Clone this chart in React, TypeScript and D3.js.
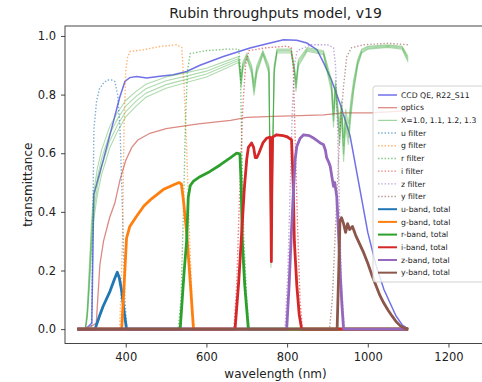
import React, { useEffect, useRef } from "react";
import * as d3 from "d3";

type Pt = [number, number];

// ---- data (wavelength nm, transmittance) ----
const qe: Pt[] = [
  [300, 0], [316, 0.02], [319, 0.3], [321, 0.46], [345, 0.58], [368, 0.7], [385, 0.79],
  [398, 0.845], [410, 0.858], [427, 0.862], [452, 0.857], [480, 0.862], [518, 0.868],
  [551, 0.879], [584, 0.9], [642, 0.93], [708, 0.959], [758, 0.976], [791, 0.987],
  [824, 0.985], [849, 0.976], [874, 0.953], [890, 0.91], [910, 0.85], [931, 0.77],
  [956, 0.66], [980, 0.48], [1000, 0.33], [1020, 0.22], [1040, 0.135], [1055, 0.09],
  [1070, 0.045], [1085, 0.015], [1100, 0],
];

const optics: Pt[] = [
  [300, 0], [327, 0.02], [336, 0.22], [345, 0.3], [360, 0.38], [373, 0.43], [386, 0.51],
  [400, 0.575], [415, 0.62], [430, 0.645], [460, 0.668], [500, 0.684], [580, 0.7],
  [660, 0.712], [700, 0.722], [765, 0.726], [832, 0.728], [890, 0.731], [940, 0.738],
  [1010, 0.738], [1060, 0.742], [1100, 0.745],
];

const atmWl = [
  300, 305, 310, 315, 320, 330, 340, 350, 360, 380, 400, 425, 450, 500, 550, 600, 650, 680,
  686, 690, 700, 712, 718, 725, 740, 755, 760, 763, 768, 775, 810, 818, 822, 828, 850, 890,
  900, 910, 915, 920, 930, 935, 940, 945, 952, 958, 965, 975, 985, 1000, 1050, 1085, 1100,
];
const atmX10 = [
  0, 0.08, 0.22, 0.36, 0.46, 0.55, 0.61, 0.65, 0.69, 0.74, 0.78, 0.81, 0.835, 0.86, 0.875,
  0.89, 0.915, 0.93, 0.86, 0.91, 0.94, 0.9, 0.84, 0.9, 0.95, 0.9, 0.3, 0.55, 0.9, 0.955,
  0.955, 0.9, 0.85, 0.92, 0.96, 0.95, 0.9, 0.85, 0.75, 0.85, 0.7, 0.78, 0.65, 0.75, 0.7,
  0.78, 0.85, 0.92, 0.955, 0.965, 0.97, 0.965, 0.93,
];
const atmX11 = [
  0, 0.062, 0.189, 0.325, 0.426, 0.518, 0.581, 0.623, 0.665, 0.718, 0.761, 0.793, 0.82,
  0.847, 0.863, 0.88, 0.907, 0.923, 0.847, 0.901, 0.934, 0.89, 0.825, 0.89, 0.945, 0.89,
  0.266, 0.518, 0.89, 0.951, 0.951, 0.89, 0.836, 0.912, 0.956, 0.945, 0.89, 0.836, 0.729,
  0.836, 0.675, 0.761, 0.623, 0.729, 0.675, 0.761, 0.836, 0.912, 0.951, 0.962, 0.967,
  0.962, 0.923,
];
const atmX12 = [
  0, 0.048, 0.163, 0.293, 0.394, 0.488, 0.553, 0.596, 0.641, 0.697, 0.742, 0.777, 0.805,
  0.834, 0.852, 0.87, 0.899, 0.917, 0.834, 0.893, 0.929, 0.881, 0.811, 0.881, 0.94, 0.881,
  0.236, 0.488, 0.881, 0.946, 0.946, 0.881, 0.823, 0.905, 0.952, 0.94, 0.881, 0.823, 0.708,
  0.823, 0.652, 0.742, 0.596, 0.708, 0.652, 0.742, 0.823, 0.905, 0.946, 0.958, 0.964,
  0.958, 0.917,
];
const atmX13 = [
  0, 0.037, 0.14, 0.265, 0.365, 0.46, 0.526, 0.571, 0.617, 0.676, 0.724, 0.76, 0.791,
  0.822, 0.841, 0.86, 0.891, 0.91, 0.822, 0.884, 0.923, 0.872, 0.797, 0.872, 0.936, 0.872,
  0.209, 0.46, 0.872, 0.942, 0.942, 0.872, 0.81, 0.897, 0.948, 0.936, 0.872, 0.81, 0.688,
  0.81, 0.629, 0.724, 0.571, 0.688, 0.629, 0.724, 0.81, 0.897, 0.942, 0.955, 0.961,
  0.955, 0.91,
];

const uFilter: Pt[] = [
  [280, 0], [315, 0], [318, 0.3], [321, 0.68], [328, 0.78], [335, 0.82], [345, 0.84],
  [355, 0.85], [365, 0.85], [373, 0.845], [380, 0.8], [386, 0.68], [392, 0.4], [398, 0.1],
  [403, 0], [1100, 0],
];
const gFilter: Pt[] = [
  [280, 0], [385, 0], [392, 0.3], [396, 0.7], [400, 0.88], [405, 0.93], [411, 0.947],
  [444, 0.953], [485, 0.964], [526, 0.97], [539, 0.96], [545, 0.82], [551, 0.62],
  [556, 0.4], [560, 0.25], [566, 0.05], [570, 0], [1100, 0],
];
const rFilter: Pt[] = [
  [280, 0], [530, 0], [537, 0.1], [543, 0.4], [548, 0.7], [553, 0.88], [560, 0.94],
  [600, 0.95], [650, 0.955], [680, 0.955], [684, 0.9], [688, 0.6], [693, 0.3], [700, 0.1],
  [706, 0], [1100, 0],
];
const iFilter: Pt[] = [
  [280, 0], [668, 0], [675, 0.15], [682, 0.45], [690, 0.75], [697, 0.9], [705, 0.95],
  [750, 0.96], [800, 0.965], [810, 0.96], [815, 0.9], [820, 0.65], [826, 0.35], [832, 0.1],
  [838, 0], [1100, 0],
];
const zFilter: Pt[] = [
  [280, 0], [795, 0], [802, 0.2], [808, 0.5], [813, 0.75], [818, 0.9], [825, 0.95],
  [860, 0.97], [900, 0.97], [915, 0.96], [920, 0.9], [925, 0.7], [930, 0.4], [935, 0.15],
  [942, 0], [1100, 0],
];
const yFilter: Pt[] = [
  [280, 0], [905, 0], [912, 0.1], [920, 0.35], [931, 0.68], [940, 0.83], [948, 0.93],
  [960, 0.96], [990, 0.97], [1050, 0.975], [1100, 0.97],
];

const uTotal: Pt[] = [
  [280, 0], [324, 0], [335, 0.045], [344, 0.078], [361, 0.129], [372, 0.17], [379, 0.194],
  [384, 0.175], [390, 0.13], [396, 0.06], [402, 0], [1100, 0],
];
const gTotal: Pt[] = [
  [280, 0], [390, 0], [396, 0.15], [402, 0.31], [410, 0.35], [427, 0.385], [445, 0.42],
  [460, 0.44], [493, 0.476], [515, 0.49], [532, 0.5], [538, 0.495], [543, 0.44],
  [551, 0.33], [559, 0.18], [568, 0], [1100, 0],
];
const rTotal: Pt[] = [
  [280, 0], [535, 0], [545, 0.2], [551, 0.3], [555, 0.45], [560, 0.49], [568, 0.505],
  [584, 0.52], [609, 0.538], [634, 0.56], [659, 0.584], [675, 0.6], [683, 0.598],
  [686, 0.5], [689, 0.3], [695, 0.15], [704, 0], [1100, 0],
];
const iTotal: Pt[] = [
  [280, 0], [671, 0], [680, 0.16], [688, 0.34], [694, 0.48], [700, 0.58], [704, 0.62],
  [712, 0.635], [717, 0.62], [721, 0.585], [725, 0.585], [730, 0.6], [740, 0.635],
  [750, 0.652], [758, 0.655], [760, 0.4], [761, 0.23], [762, 0.45], [764, 0.655],
  [774, 0.663], [790, 0.66], [799, 0.657], [811, 0.646], [815, 0.5], [818, 0.3],
  [824, 0.15], [830, 0.05], [836, 0], [1100, 0],
];
const zTotal: Pt[] = [
  [280, 0], [799, 0], [805, 0.15], [811, 0.34], [816, 0.48], [820, 0.58], [824, 0.623],
  [832, 0.65], [841, 0.663], [855, 0.66], [865, 0.652], [882, 0.635], [890, 0.63],
  [895, 0.61], [898, 0.585], [903, 0.57], [907, 0.555], [911, 0.52], [915, 0.487],
  [918, 0.5], [923, 0.453], [925, 0.4], [927, 0.34], [932, 0.18], [936, 0.08], [940, 0],
  [1100, 0],
];
const yTotal: Pt[] = [
  [280, 0], [924, 0], [928, 0.2], [931, 0.37], [935, 0.38], [940, 0.36], [945, 0.33],
  [950, 0.36], [955, 0.34], [962, 0.35], [970, 0.32], [980, 0.29], [990, 0.26],
  [1000, 0.225], [1010, 0.185], [1020, 0.15], [1030, 0.115], [1040, 0.088], [1050, 0.065],
  [1060, 0.045], [1070, 0.026], [1080, 0.012], [1090, 0.004], [1100, 0],
];

const xTicks = [400, 600, 800, 1000, 1200];
const yTicks = [0, 0.2, 0.4, 0.6, 0.8, 1.0];

const legendLabels = [
  "CCD QE, R22_S11", "optics", "X=1.0, 1.1, 1.2, 1.3",
  "u filter", "g filter", "r filter", "i filter", "z filter", "y filter",
  "u-band, total", "g-band, total", "r-band, total", "i-band, total", "z-band, total", "y-band, total",
];

const bandColors = ["#1f77b4", "#ff7f0e", "#2ca02c", "#d62728", "#9467bd", "#8c564b"];

export default function App() {
  const svgRef = useRef<SVGSVGElement>(null);

  useEffect(() => {
    const w = 482;
    const h = 382;
    const left = 65, right = 486, top = 26, bottom = 343.5;
    const font = "DejaVu Sans, sans-serif";

    const svg = d3.select(svgRef.current);
    svg.selectAll("*").remove();
    svg.attr("width", w).attr("height", h);

    const x = d3.scaleLinear().domain([249.5, 1293]).range([left, right]);
    const y = d3.scaleLinear().domain([-0.049, 1.034]).range([bottom, top]);
    const line = d3.line<Pt>().x(d => x(d[0])).y(d => y(d[1]));

    svg.append("rect").attr("width", w).attr("height", h).attr("fill", "#fff");

    svg.append("defs").append("clipPath").attr("id", "plotclip")
      .append("rect").attr("x", left).attr("y", top)
      .attr("width", right - left).attr("height", bottom - top);

    const plot = svg.append("g").attr("clip-path", "url(#plotclip)").attr("fill", "none");

    // QE and optics
    plot.append("path").attr("d", line(qe)).attr("stroke", "#7070e8").attr("stroke-width", 1.5);
    plot.append("path").attr("d", line(optics)).attr("stroke", "#dc8a84").attr("stroke-width", 1.3);

    // atmosphere at several airmasses
    [atmX10, atmX11, atmX12, atmX13].forEach(vals => {
      const pts: Pt[] = atmWl.map((wl, i) => [wl, vals[i]]);
      plot.append("path").attr("d", line(pts))
        .attr("stroke", "#2ca02c").attr("stroke-opacity", 0.38).attr("stroke-width", 1.1);
    });

    // filters (dotted)
    [uFilter, gFilter, rFilter, iFilter, zFilter, yFilter].forEach((f, i) => {
      plot.append("path").attr("d", line(f))
        .attr("stroke", bandColors[i]).attr("stroke-opacity", 0.6)
        .attr("stroke-width", 1.4).attr("stroke-dasharray", "1.4,1.9");
    });

    // band totals
    [uTotal, gTotal, rTotal, iTotal, zTotal, yTotal].forEach((t, i) => {
      plot.append("path").attr("d", line(t))
        .attr("stroke", bandColors[i]).attr("stroke-width", 2.8)
        .attr("stroke-linejoin", "round");
    });

    // axes
    const xAxis = d3.axisBottom(x).tickValues(xTicks).tickSize(4).tickSizeOuter(0).tickPadding(5.5)
      .tickFormat(d3.format("d"));
    const gx = svg.append("g").attr("transform", `translate(0,${bottom})`).call(xAxis);
    const yAxis = d3.axisLeft(y).tickValues(yTicks).tickSize(4).tickSizeOuter(0).tickPadding(5)
      .tickFormat(d3.format(".1f"));
    const gy = svg.append("g").attr("transform", `translate(${left},0)`).call(yAxis);
    [gx, gy].forEach(g => {
      g.select(".domain").remove();
      g.selectAll("line").attr("stroke", "#333").attr("stroke-width", 0.9);
      g.selectAll("text").attr("font-family", font).attr("font-size", 11.5).attr("fill", "#222");
    });

    // spines
    const spines = svg.append("g").attr("stroke", "#333").attr("stroke-width", 0.9).attr("fill", "none");
    spines.append("rect").attr("x", left).attr("y", top)
      .attr("width", right - left).attr("height", bottom - top);

    // labels
    svg.append("text").attr("x", (left + right) / 2).attr("y", 18)
      .attr("text-anchor", "middle").attr("font-family", font).attr("font-size", 14)
      .attr("fill", "#222").text("Rubin throughputs model, v19");
    svg.append("text").attr("x", (left + right) / 2).attr("y", 378)
      .attr("text-anchor", "middle").attr("font-family", font).attr("font-size", 12)
      .attr("fill", "#222").text("wavelength (nm)");
    svg.append("text").attr("transform", `translate(32,${(top + bottom) / 2}) rotate(-90)`)
      .attr("text-anchor", "middle").attr("font-family", font).attr("font-size", 12)
      .attr("fill", "#222").text("transmittance");

    // legend
    const lg = svg.append("g");
    lg.append("rect").attr("x", 373).attr("y", 86).attr("width", 130).attr("height", 196)
      .attr("rx", 2.5).attr("fill", "#fff").attr("fill-opacity", 0.8)
      .attr("stroke", "#ccc").attr("stroke-width", 0.9);
    legendLabels.forEach((lab, i) => {
      const ly = 95 + i * 12.69;
      const seg = lg.append("line").attr("x1", 378).attr("x2", 397).attr("y1", ly).attr("y2", ly);
      if (i === 0) seg.attr("stroke", "#7070e8").attr("stroke-width", 1.5);
      else if (i === 1) seg.attr("stroke", "#dc8a84").attr("stroke-width", 1.3);
      else if (i === 2) seg.attr("stroke", "#2ca02c").attr("stroke-opacity", 0.45).attr("stroke-width", 1.2);
      else if (i < 9) seg.attr("stroke", bandColors[i - 3]).attr("stroke-opacity", 0.6)
        .attr("stroke-width", 1.4).attr("stroke-dasharray", "1.4,1.9");
      else seg.attr("stroke", bandColors[i - 9]).attr("stroke-width", 2);
      lg.append("text").attr("x", 401).attr("y", ly).attr("dy", "0.35em")
        .attr("font-family", font).attr("font-size", 7.7).attr("fill", "#222").text(lab);
    });
  }, []);

  return (
    <svg ref={svgRef} width={482} height={382}
      style={{ position: "absolute", left: 0, top: 0, display: "block" }} />
  );
}
